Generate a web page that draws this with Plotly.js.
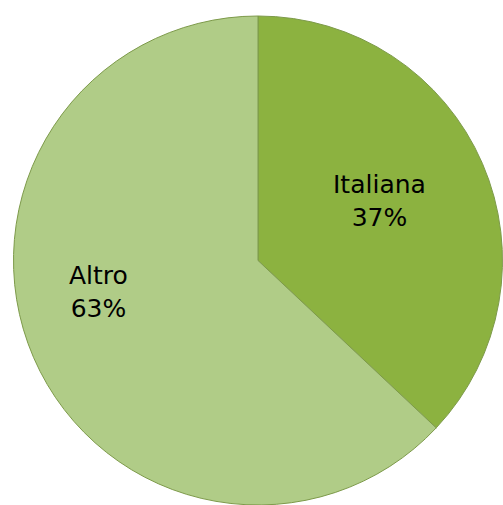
<!DOCTYPE html>
<html><head><meta charset="utf-8">
<script src="https://cdn.plot.ly/plotly-3.0.1.min.js"></script>
<style>html,body{margin:0;padding:0;background:#fff}#chart{width:503px;height:505px}</style>
</head><body><div id="chart"></div>
<script>
const labels = ["Italiana", "Altro"];
const values = [37, 63];
const colors = ["#8cb240", "#b0cc87"];
const labelPos = [[0.747, 0.622], [0.1755, 0.436]];

const total = values.reduce((a, b) => a + b, 0);
const annotations = labels.map((l, i) => ({
  xref: "paper", yref: "paper",
  x: labelPos[i][0], y: labelPos[i][1],
  xanchor: "center", yanchor: "middle",
  text: l + "<br>" + Math.round(values[i] / total * 100) + "%",
  showarrow: false,
  font: {family: "DejaVu Sans, Verdana, sans-serif", size: 25, color: "#000"}
}));

Plotly.newPlot("chart", [{
  type: "pie",
  labels: labels,
  values: values,
  sort: false,
  direction: "clockwise",
  rotation: 0,
  marker: {colors: colors, line: {color: "#7d9a4a", width: 1}},
  textinfo: "none",
  hoverinfo: "none",
  showlegend: false
}], {
  width: 503, height: 505,
  margin: {l: 13, r: 0, t: 16, b: 0},
  paper_bgcolor: "#fff",
  showlegend: false,
  annotations: annotations
}, {displayModeBar: false, staticPlot: true});
</script></body></html>
